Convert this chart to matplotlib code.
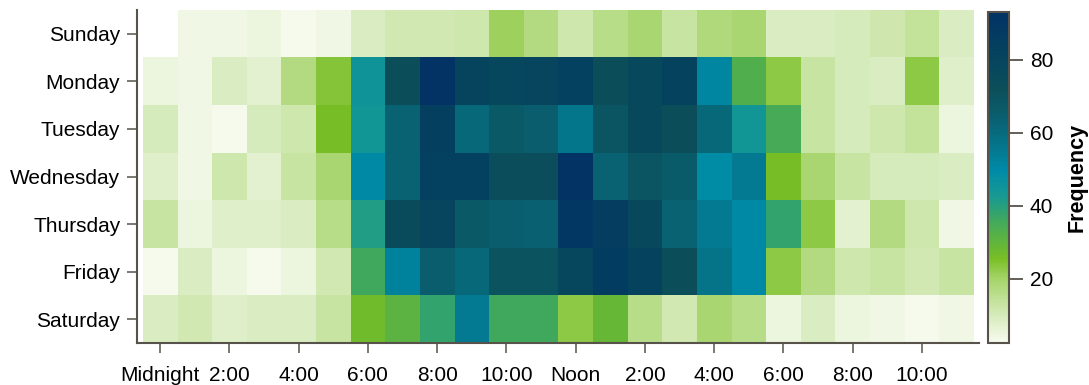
import numpy as np
import matplotlib
matplotlib.use("Agg")
import matplotlib.pyplot as plt
from matplotlib.colors import LinearSegmentedColormap

plt.rcParams['font.family'] = ['Liberation Sans', 'DejaVu Sans']

# rows of the heatmap, one list per day, 24 hourly counts (midnight .. 11pm)
days = ["Sunday", "Monday", "Tuesday", "Wednesday", "Thursday", "Friday", "Saturday"]
sunday = [np.nan, 4, 4, 5, 3, 4, 9, 11, 11, 12, 21, 17, 12, 16, 19, 13, 18, 19, 9, 9, 10, 11.5, 14, 9]
monday = [5, 4, 9, 7, 17, 24, 45, 72, 92, 80, 78, 79, 83, 72, 77, 81, 51, 33, 23, 13, 10, 9, 23, 8]
tuesday = [10, 4, 3, 10, 12, 25.5, 44, 63, 84, 61, 67, 65, 56, 69, 77, 72, 61, 44, 35, 13, 10, 12, 14, 5]
wednesday = [8, 4, 12, 7, 13, 19, 50, 63, 83, 83, 73, 73, 92, 63, 69, 66, 49, 55, 25.5, 19, 13, 10, 10, 9]
thursday = [13, 5, 8, 8, 9, 16, 41, 75, 79, 67, 65, 64, 90, 85, 77, 63, 55, 50, 38, 23, 7, 17, 12, 4]
friday = [3, 9, 5, 3, 5, 11, 36, 52, 65, 61, 70, 70, 78, 86, 82, 72, 57, 50, 23, 17, 12, 13, 11, 13]
saturday = [9, 11, 8, 9, 9, 13, 27, 31, 38, 55, 36, 36, 23, 29, 16, 11, 19, 16, 5, 9, 5, 4, 3, 4]

hour_ticks = list(range(0, 24, 2))
hour_labels = ["Midnight", "2:00", "4:00", "6:00", "8:00", "10:00",
               "Noon", "2:00", "4:00", "6:00", "8:00", "10:00"]

counts = np.array([sunday, monday, tuesday, wednesday, thursday, friday, saturday], dtype=float)

# white -> green -> teal -> navy
vmin, vmax = 2.5, 93
stops = [(2.5, "#f7fbf0"), (10, "#d6ebbb"), (20, "#a5d468"), (25.5, "#78be25"),
         (31, "#5cb342"), (36, "#40a85e"), (42, "#1a9a8f"), (49.5, "#008ba8"),
         (57, "#057489"), (64, "#0a6070"), (72, "#0c4f5a"), (82, "#05425f"),
         (93, "#023365")]
cmap = LinearSegmentedColormap.from_list(
    "freq", [((v - vmin) / (vmax - vmin), c) for v, c in stops])

spine_col = "#57534b"
fs = 15

fig = plt.figure(figsize=(10.89, 3.85), dpi=100)
ax = fig.add_axes([137 / 1089, 1 - 343 / 385, 842 / 1089, 333 / 385])
img = ax.imshow(counts, cmap=cmap, vmin=vmin, vmax=vmax, aspect='auto',
                interpolation='nearest', extent=(-0.5, 23.5, 6.5, -0.5))
ax.set_xlim(-0.67, 23.65)
ax.set_ylim(6.5, -0.5)

ax.set_xticks(hour_ticks)
ax.set_xticklabels(hour_labels)
ax.set_yticks(range(len(days)))
ax.set_yticklabels(days)

for side in ['top', 'right']:
    ax.spines[side].set_visible(False)
for side in ['left', 'bottom']:
    ax.spines[side].set_color(spine_col)
    ax.spines[side].set_linewidth(1.5)
ax.tick_params(axis='both', direction='out', length=7, width=1.1, color=spine_col,
               labelsize=fs, labelcolor='black')
ax.tick_params(axis='x', pad=9.5)
ax.tick_params(axis='y', pad=5)

cax = fig.add_axes([988 / 1089, 1 - 343 / 385, 21 / 1089, 331 / 385])
cb = fig.colorbar(img, cax=cax)
cb.set_ticks([20, 40, 60, 80])
cb.outline.set_edgecolor(spine_col)
cb.outline.set_linewidth(1.5)
cax.tick_params(direction='out', length=10, width=1.3, color=spine_col,
                labelsize=fs, pad=5)
cb.set_label("Frequency", fontsize=15.5, fontweight='bold', labelpad=10)

fig.savefig("out.png", dpi=100)
